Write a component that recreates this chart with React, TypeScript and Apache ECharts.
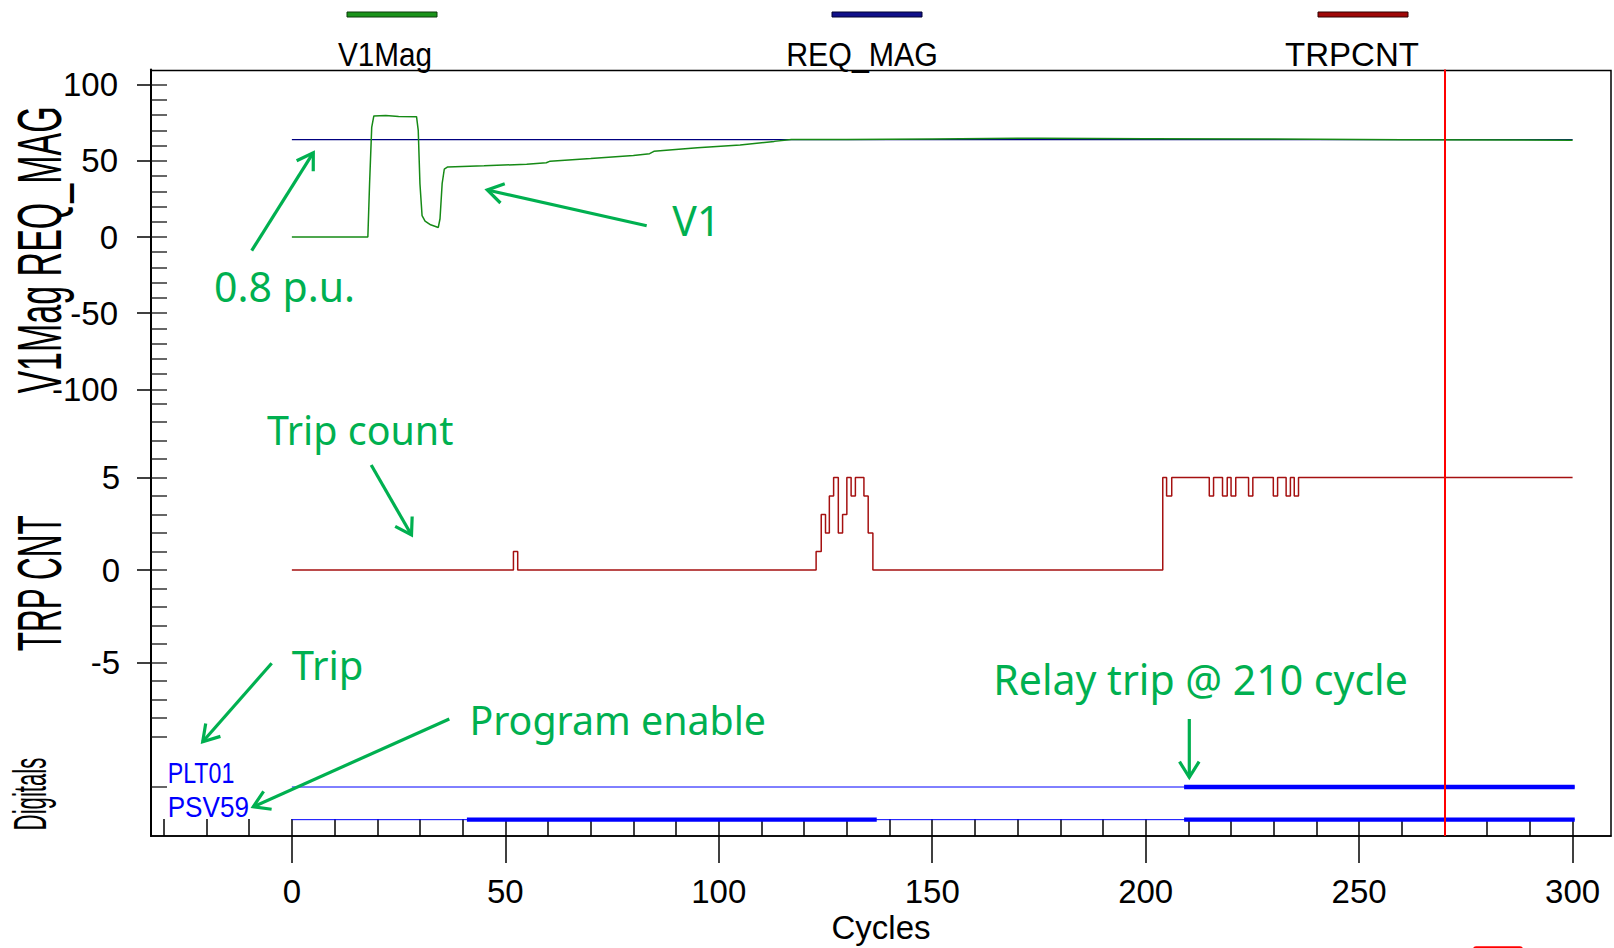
import React, { useEffect, useRef } from "react";
import * as echarts from "echarts";

// ---------- data ----------
const seriesNames = ["V1Mag", "REQ_MAG", "TRPCNT"];

// V1Mag [cycle, value]
const v1MagData: number[][] = [
  [0, 0], [17.8, 0], [18.2, 35], [18.7, 72], [19.2, 79.5], [22, 79.8], [25, 79.2], [29.2, 79.0],
  [29.6, 70], [30.0, 35], [30.5, 14], [31.2, 10.5], [32.5, 8], [34.3, 6.3], [34.7, 12], [35.2, 35],
  [35.7, 44.5], [36.5, 46], [45, 46.8], [55, 47.8], [59.6, 48.8], [60.5, 49.8], [70, 51.5], [80, 53.5],
  [83.8, 54.7], [84.8, 56.3], [95, 58.6], [105, 60.5], [113, 62.8], [117, 64], [130, 64.1], [150, 64.4],
  [175, 64.9], [200, 64.6], [230, 64.3], [260, 63.9], [300, 63.6],
];

// REQ_MAG [cycle, value]
const reqMagData: number[][] = [[0, 64], [300, 64]];

// TRPCNT change points [cycle, count]
const trpCntData: number[][] = [
  [0, 0], [51.9, 1], [52.9, 0], [122.8, 1], [124, 3], [125, 2], [125.9, 4], [126.9, 5], [128, 2],
  [129, 3], [130, 5], [131, 4], [132, 5], [134, 4], [135, 2], [136.1, 0], [204, 5], [204.9, 4],
  [206.1, 5], [214.9, 4], [215.9, 5], [218, 4], [219.1, 5], [220, 4], [221.1, 5], [224.1, 4],
  [225.1, 5], [229.9, 4], [230.9, 5], [232.9, 4], [233.9, 5], [234.8, 4], [235.8, 5], [300, 5],
];

// Digitals: on-intervals [start, end] in cycles
const digitalNames = ["PLT01", "PSV59"];
const plt01On: number[][] = [[209, 300.5]];
const psv59On: number[][] = [[41, 137], [209, 300.5]];
const digitalSpan = [0, 300.5];
const cursorCycle = 270;

// ticks
const xTicksMinor = [-30, -20, -10, 0, 10, 20, 30, 40, 50, 60, 70, 80, 90, 100, 110, 120, 130, 140, 150, 160, 170, 180, 190, 200, 210, 220, 230, 240, 250, 260, 270, 280, 290, 300];
const xTicksMajor = [0, 50, 100, 150, 200, 250, 300];
const y1TicksMinor = [-100, -90, -80, -70, -60, -50, -40, -30, -20, -10, 0, 10, 20, 30, 40, 50, 60, 70, 80, 90, 100];
const y1TicksMajor = [-100, -50, 0, 50, 100];
const y2TicksMinor = [-9, -8, -7, -6, -5, -4, -3, -2, -1, 0, 1, 2, 3, 4, 5, 6, 7, 8, 9];
const y2TicksMajor = [-5, 0, 5];

// annotations
const annotations = [
  { text: "0.8 p.u.", x: 214, base: 302.3, fs: 41 },
  { text: "V1", x: 672.3, base: 235.7, fs: 41 },
  { text: "Trip count", x: 266.9, base: 445, fs: 39.4 },
  { text: "Trip", x: 291.7, base: 680, fs: 40 },
  { text: "Program enable", x: 469.4, base: 735, fs: 39.3 },
  { text: "Relay trip @ 210 cycle", x: 993.3, base: 695, fs: 41 },
];
const arrows = [
  [251.7, 250.7, 313.3, 152.7],
  [646.7, 225.7, 487.3, 190],
  [371.2, 465, 411.5, 535],
  [271.7, 663.3, 202.7, 741.7],
  [449.3, 719, 253.3, 806.7],
  [1189.3, 719, 1189.3, 777.3],
];

// ---------- style ----------
const FONT = "'Liberation Sans', Arial, sans-serif";
const GFONT = "'Noto Sans', 'Open Sans', sans-serif";
const GREEN = "#00B050";
const C_V1 = "#168A16";
const C_REQ = "#000080";
const C_TRP = "#A51010";
const C_DIG = "#0000FF";
const X_MIN = -33;
const X_MAX = 309;

function arrowGraphics(x1: number, y1: number, x2: number, y2: number) {
  const ang = Math.atan2(y2 - y1, x2 - x1);
  const L = 18.5;
  const a = (32 * Math.PI) / 180;
  const p1 = [x2 - L * Math.cos(ang - a), y2 - L * Math.sin(ang - a)];
  const p2 = [x2 - L * Math.cos(ang + a), y2 - L * Math.sin(ang + a)];
  return [
    { type: "line", shape: { x1, y1, x2, y2 }, style: { stroke: GREEN, lineWidth: 3.2 } },
    { type: "polyline", shape: { points: [p1, [x2, y2], p2] }, style: { stroke: GREEN, lineWidth: 3.2, fill: "none" } },
  ];
}

function hiddenX(gridIndex: number) {
  return { type: "value", gridIndex, min: X_MIN, max: X_MAX, show: false };
}

export default function App() {
  const ref = useRef<HTMLDivElement>(null);

  useEffect(() => {
    if (!ref.current) return;
    const chart = echarts.init(ref.current, undefined, { renderer: "svg" });

    const redMark = {
      silent: true,
      symbol: ["none", "none"],
      label: { show: false },
      lineStyle: { color: "#FF0000", width: 2, type: "solid" },
      data: [{ xAxis: cursorCycle }],
      animation: false,
    };

    const lineBase = { type: "line", showSymbol: false, symbol: "none", silent: true, animation: false };

    const digLevels: Record<string, number> = { PLT01: 1.5, PSV59: 0.5 };
    const digOn: Record<string, number[][]> = { PLT01: plt01On, PSV59: psv59On };

    const digitalSeries: any[] = [];
    digitalNames.forEach((n) => {
      const lvl = digLevels[n];
      digitalSeries.push({
        ...lineBase,
        name: n + "_off",
        xAxisIndex: 2,
        yAxisIndex: 4,
        lineStyle: { color: C_DIG, width: 1 },
        data: [[digitalSpan[0], lvl], [digitalSpan[1], lvl]],
        z: 3,
      });
    });
    digitalNames.forEach((n) => {
      const lvl = digLevels[n];
      digOn[n].forEach((iv) => {
        digitalSeries.push({
          ...lineBase,
          name: n,
          xAxisIndex: 2,
          yAxisIndex: 4,
          lineStyle: { color: C_DIG, width: 4.3, cap: "butt" },
          data: [[iv[0], lvl], [iv[1], lvl]],
          z: 4,
        });
      });
    });
    digitalSeries[digitalSeries.length - 1].markLine = redMark;

    const leftInside = (gridIndex: number, min: number, max: number, ticks: number[]) => ({
      type: "value",
      gridIndex,
      min,
      max,
      position: "left",
      axisLine: { show: true, onZero: false, lineStyle: { color: "#000", width: 2 } },
      axisTick: { show: true, inside: true, length: 16, customValues: ticks, lineStyle: { color: "#333", width: 1.5 } },
      axisLabel: { show: false },
      splitLine: { show: false },
    });
    const leftOutside = (gridIndex: number, min: number, max: number, ticks: number[], margin: number) => ({
      type: "value",
      gridIndex,
      min,
      max,
      position: "left",
      axisLine: { show: false, onZero: false },
      axisTick: { show: true, inside: false, length: 14, customValues: ticks, lineStyle: { color: "#000", width: 1.5 } },
      axisLabel: {
        show: true,
        customValues: ticks,
        margin,
        fontSize: 33,
        fontFamily: FONT,
        color: "#000",
      },
      splitLine: { show: false },
    });

    const graphics: any[] = [];
    // frame
    graphics.push({
      type: "rect",
      shape: { x: 151, y: 70.5, width: 1460, height: 765.5 },
      style: { fill: "none", stroke: "#000", lineWidth: 1.5 },
      z: 1,
      silent: true,
    });
    // legend
    const legendPos = [
      { lx: 347, tx: 385, sx: 0.9, fill: "#1A931A", stroke: "#0A3A0A" },
      { lx: 832, tx: 862, sx: 0.92, fill: "#10108A", stroke: "#000030" },
      { lx: 1318, tx: 1352, sx: 1.0, fill: "#A00808", stroke: "#300000" },
    ];
    seriesNames.forEach((n, i) => {
      const p = legendPos[i];
      graphics.push({
        type: "rect",
        shape: { x: p.lx, y: 12, width: 90, height: 5 },
        style: { fill: p.fill, stroke: p.stroke, lineWidth: 1 },
        silent: true,
      });
      graphics.push({
        type: "text",
        x: p.tx,
        y: 66 - 0.3465 * 33,
        scaleX: p.sx,
        style: { text: n, fontSize: 33, fontFamily: FONT, fill: "#000", align: "center", verticalAlign: "middle" },
        silent: true,
      });
    });
    // rotated axis names
    const names = [
      { text: "V1Mag REQ_MAG", x: 39.3, y: 250, fs: 34, sy: 1.85 },
      { text: "TRP CNT", x: 39.3, y: 583.3, fs: 31.5, sy: 2.0 },
      { text: "Digitals", x: 30.1, y: 794, fs: 22.2, sy: 2.06 },
    ];
    names.forEach((nm) => {
      graphics.push({
        type: "text",
        x: nm.x,
        y: nm.y,
        rotation: Math.PI / 2,
        scaleX: 1,
        scaleY: nm.sy,
        style: { text: nm.text, fontSize: nm.fs, fontFamily: FONT, fill: "#000", align: "center", verticalAlign: "middle" },
        silent: true,
      });
    });
    // digital labels
    const digLabelBase: Record<string, number> = { PLT01: 783.3, PSV59: 816.7 };
    const digLabelScale: Record<string, number> = { PLT01: 0.8, PSV59: 0.9 };
    digitalNames.forEach((n) => {
      graphics.push({
        type: "text",
        x: 167.7,
        y: digLabelBase[n] - 0.3465 * 29,
        scaleX: digLabelScale[n],
        style: { text: n, fontSize: 29, fontFamily: FONT, fill: C_DIG, align: "left", verticalAlign: "middle" },
        silent: true,
      });
    });
    // annotations
    annotations.forEach((a) => {
      graphics.push({
        type: "text",
        x: a.x,
        y: a.base - 0.388 * a.fs,
        style: { text: a.text, fontSize: a.fs, fontFamily: GFONT, fill: GREEN, align: "left", verticalAlign: "middle" },
        silent: true,
        z: 10,
      });
    });
    arrows.forEach((ar) => {
      arrowGraphics(ar[0], ar[1], ar[2], ar[3]).forEach((g) => graphics.push({ ...g, silent: true, z: 10 }));
    });
    // small red fragment at bottom
    graphics.push({
      type: "rect",
      shape: { x: 1473, y: 946.3, width: 50, height: 8, r: 3 },
      style: { fill: "#FF0000" },
      silent: true,
    });

    const option: any = {
      animation: false,
      textStyle: { fontFamily: FONT },
      grid: [
        { left: 151, right: 3, top: 69.5, height: 319.8 },
        { left: 151, right: 3, top: 385, height: 370 },
        { left: 151, right: 3, top: 755, height: 81 },
      ],
      xAxis: [
        hiddenX(0),
        hiddenX(1),
        {
          type: "value",
          gridIndex: 2,
          min: X_MIN,
          max: X_MAX,
          position: "bottom",
          axisLine: { show: true, onZero: false, lineStyle: { color: "#000", width: 1.5 } },
          axisTick: { show: true, inside: true, length: 17, customValues: xTicksMinor, lineStyle: { color: "#000", width: 1.5 } },
          axisLabel: { show: false },
          splitLine: { show: false },
        },
        {
          type: "value",
          gridIndex: 2,
          min: X_MIN,
          max: X_MAX,
          position: "bottom",
          name: "Cycles",
          nameLocation: "middle",
          nameGap: 75,
          nameTextStyle: { fontSize: 33, fontFamily: FONT, color: "#000" },
          axisLine: { show: false, onZero: false },
          axisTick: { show: true, inside: false, length: 27, customValues: xTicksMajor, lineStyle: { color: "#000", width: 1.5 } },
          axisLabel: { show: true, customValues: xTicksMajor, margin: 39, fontSize: 33, fontFamily: FONT, color: "#000" },
          splitLine: { show: false },
        },
      ],
      yAxis: [
        leftInside(0, -100, 110, y1TicksMinor),
        leftOutside(0, -100, 110, y1TicksMajor, 33),
        leftInside(1, -10, 10, y2TicksMinor),
        leftOutside(1, -10, 10, y2TicksMajor, 31),
        leftInside(2, 0, 2.48, [1.5]),
      ],
      series: [
        {
          ...lineBase,
          name: seriesNames[1],
          xAxisIndex: 0,
          yAxisIndex: 0,
          lineStyle: { color: C_REQ, width: 1.2 },
          data: reqMagData,
          z: 2,
        },
        {
          ...lineBase,
          name: seriesNames[0],
          xAxisIndex: 0,
          yAxisIndex: 0,
          lineStyle: { color: C_V1, width: 1.5 },
          data: v1MagData,
          z: 3,
          markLine: redMark,
        },
        {
          ...lineBase,
          name: seriesNames[2],
          xAxisIndex: 1,
          yAxisIndex: 2,
          step: "end",
          lineStyle: { color: C_TRP, width: 1.5 },
          data: trpCntData,
          z: 3,
          markLine: redMark,
        },
        ...digitalSeries,
      ],
      graphic: graphics,
    };

    chart.setOption(option);
    return () => chart.dispose();
  }, []);

  return (
    <div
      ref={ref}
      style={{ position: "absolute", left: 0, top: 0, width: 1614, height: 948, background: "#fff" }}
    />
  );
}
